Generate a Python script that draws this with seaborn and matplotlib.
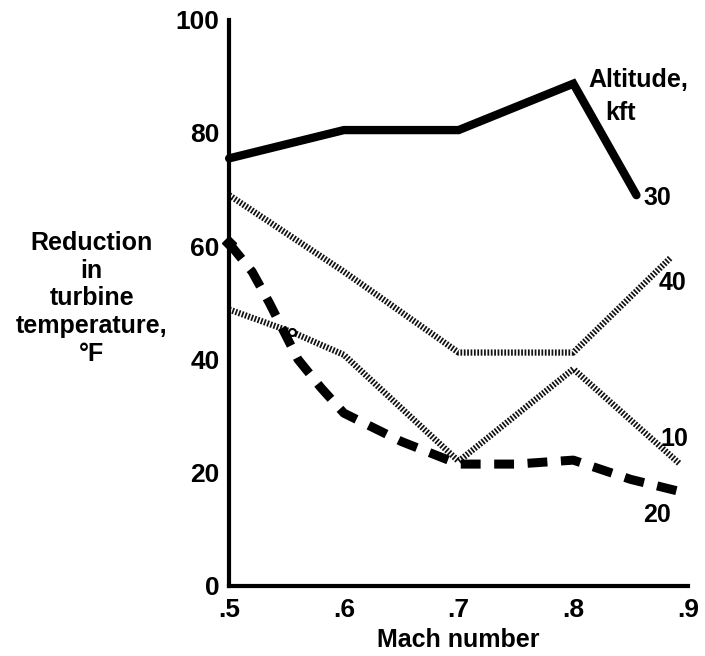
import pandas as pd
import matplotlib.pyplot as plt
import seaborn as sns

sns.set_theme(style="white")
plt.rcParams['font.family'] = ['Liberation Sans', 'DejaVu Sans']
plt.rcParams['font.weight'] = 'bold'
plt.rcParams['text.color'] = 'black'
plt.rcParams['axes.labelcolor'] = 'black'

# altitude 30 kft
mach_30 = [0.5, 0.6, 0.7, 0.8, 0.855]
temp_30 = [75.5, 80.5, 80.5, 88.7, 69.0]
# altitude 40 kft
mach_40 = [0.5, 0.6, 0.7, 0.8, 0.885]
temp_40 = [69.0, 55.5, 41.2, 41.2, 58.0]
# altitude 10 kft
mach_10 = [0.5, 0.555, 0.6, 0.7, 0.8, 0.893]
temp_10 = [48.8, 44.8, 40.8, 22.0, 38.3, 21.5]
# altitude 20 kft
mach_20 = [0.5, 0.52, 0.535, 0.56, 0.58, 0.6, 0.65, 0.7, 0.75, 0.8, 0.85, 0.89]
temp_20 = [60.5, 55.5, 50.0, 40.0, 35.0, 30.5, 25.5, 21.5, 21.5, 22.2, 18.8, 16.8]

x_ticks = [0.5, 0.6, 0.7, 0.8, 0.9]
x_ticklabels = ['.5', '.6', '.7', '.8', '.9']
y_ticks = [0, 20, 40, 60, 80, 100]

fig = plt.figure(figsize=(7.05, 6.56), dpi=100)
ax = fig.add_axes([0.325, 0.107, 0.651, 0.863])

hatch = (0, (0.28, 0.26))
sns.lineplot(x=mach_30, y=temp_30, ax=ax, sort=False, estimator=None,
             color='black', linewidth=6, solid_joinstyle='miter')
sns.lineplot(x=mach_40, y=temp_40, ax=ax, sort=False, estimator=None,
             color='#111111', linewidth=4.5, linestyle=hatch, dash_capstyle='butt')
sns.lineplot(x=mach_10, y=temp_10, ax=ax, sort=False, estimator=None,
             color='#111111', linewidth=4.5, linestyle=hatch, dash_capstyle='butt')
sns.lineplot(x=mach_20, y=temp_20, ax=ax, sort=False, estimator=None,
             color='black', linewidth=6.5, linestyle=(0, (2.2, 1.5)), dash_capstyle='butt')

# small markers at the curve starts, as in the original
ax.plot(mach_20[0], temp_20[0], marker='D', color='black', markersize=7, clip_on=False)
ax.plot(mach_10[1], temp_10[1], marker='o', mfc='white', mec='black', markersize=5, mew=1.5)

ax.set_xlim(0.5, 0.9)
ax.set_ylim(0, 100)
ax.set_xticks(x_ticks)
ax.set_xticklabels(x_ticklabels)
ax.set_yticks(y_ticks)
for s in ['top', 'right']:
    ax.spines[s].set_visible(False)
for s in ['left', 'bottom']:
    ax.spines[s].set_linewidth(3)
    ax.spines[s].set_color('black')
    ax.spines[s].set_capstyle('projecting')
ax.tick_params(axis='y', direction='in', length=22, width=1.5, pad=7,
               labelsize=19, colors='black')
ax.tick_params(axis='x', direction='in', length=24, width=1.5, pad=9,
               labelsize=19, colors='black')
ax.yaxis.get_major_ticks()[-1].tick1line.set_markeredgewidth(4)
ax.xaxis.get_major_ticks()[-1].tick1line.set_markeredgewidth(4)
ax.set_facecolor('white')

ax.set_xlabel('Mach number', fontsize=18, fontweight='bold', labelpad=4)
ax.set_ylabel('')
fig.text(0.13, 0.545, 'Reduction\nin\nturbine\ntemperature,\n\u00b0F', ha='center', va='center',
         fontsize=18, fontweight='bold', linespacing=1.2)

ax.text(0.813, 89.3, 'Altitude,', ha='left', va='center', fontsize=18, fontweight='bold')
ax.text(0.828, 83.6, 'kft', ha='left', va='center', fontsize=18, fontweight='bold')
ax.text(0.861, 68.5, '30', ha='left', va='center', fontsize=18, fontweight='bold')
ax.text(0.874, 53.5, '40', ha='left', va='center', fontsize=18, fontweight='bold')
ax.text(0.876, 26.0, '10', ha='left', va='center', fontsize=18, fontweight='bold')
ax.text(0.861, 12.5, '20', ha='left', va='center', fontsize=18, fontweight='bold')

for line in ax.lines:
    line.set_clip_on(False)

fig.savefig('out.png', dpi=100, facecolor='white')
